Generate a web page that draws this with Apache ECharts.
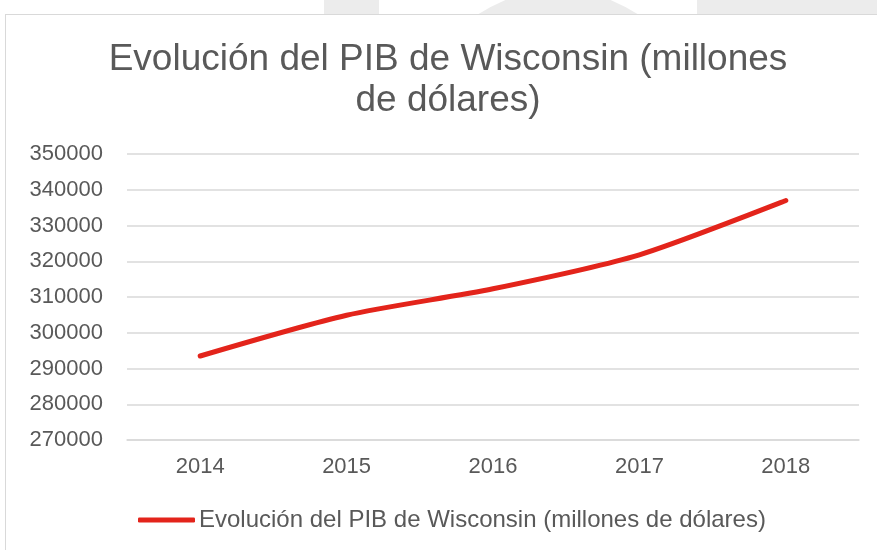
<!DOCTYPE html>
<html>
<head>
<meta charset="utf-8">
<script src="https://cdn.jsdelivr.net/npm/echarts@6/dist/echarts.min.js"></script>
<style>
  html, body { margin: 0; padding: 0; background: #fff; }
  .stage { position: relative; width: 877px; height: 550px; overflow: hidden; }
  /* marca de agua gris detrás del gráfico */
  .wm { position: absolute; background: #ececec; }
  .frame { position: absolute; left: 5px; top: 14px; width: 900px; height: 600px;
           background: #fff; border-left: 1.5px solid #d9d9d9; border-top: 1.5px solid #d9d9d9; }
  #chart { position: absolute; left: 0; top: 0; width: 877px; height: 550px; }
</style>
</head>
<body>
<div class="stage">
  <div class="wm" style="left:324px;top:0;width:55px;height:14px"></div>
  <div class="wm" style="left:415px;top:-10px;width:286px;height:286px;border-radius:50%"></div>
  <div class="wm" style="left:697px;top:0;width:180px;height:14px"></div>
  <div class="frame"></div>
  <div id="chart"></div>
</div>
<script>
// datos
const years = ['2014', '2015', '2016', '2017', '2018']
const gdp = [293500, 304900, 312300, 321800, 337000]
const seriesName = 'Evolución del PIB de Wisconsin (millones de dólares)'
const titleText = 'Evolución del PIB de Wisconsin (millones\nde dólares)'

const textColor = '#595959'
const gridColor = '#d9d9d9'
const lineColor = '#e3241b'

const chart = echarts.init(document.getElementById('chart'))

const option = {
  backgroundColor: 'transparent',
  animation: false,
  title: {
    text: titleText,
    left: 448,
    top: 39,
    textAlign: 'center',
    padding: 0,
    textStyle: {
      fontFamily: 'Liberation Sans',
      fontSize: 37,
      fontWeight: 'normal',
      lineHeight: 41,
      color: textColor
    }
  },
  legend: {
    data: [seriesName],
    left: 138,
    top: 506,
    padding: 0,
    icon: 'roundRect',
    itemWidth: 57,
    itemHeight: 5,
    textStyle: {
      fontFamily: 'Liberation Sans',
      fontSize: 24,
      lineHeight: 28,
      color: textColor,
      padding: [0, 0, 0, -1]
    }
  },
  grid: {
    left: 127,
    right: 18,
    top: 154,
    bottom: 110,
    containLabel: false
  },
  xAxis: {
    type: 'category',
    data: years,
    boundaryGap: true,
    axisLine: { show: true, lineStyle: { color: gridColor, width: 1.5 } },
    axisTick: { show: false },
    axisLabel: {
      margin: 16,
      fontFamily: 'Liberation Sans',
      fontSize: 22,
      color: textColor
    }
  },
  yAxis: {
    type: 'value',
    min: 270000,
    max: 350000,
    interval: 10000,
    axisLine: { show: false },
    axisTick: { show: false },
    axisLabel: {
      margin: 24,
      fontFamily: 'Liberation Sans',
      fontSize: 22,
      color: textColor,
      formatter: (v) => String(v)
    },
    splitLine: { lineStyle: { color: gridColor, width: 1.5 } }
  },
  series: [
    {
      name: seriesName,
      type: 'line',
      data: gdp,
      smooth: 0.25,
      symbol: 'none',
      itemStyle: { color: lineColor },
      lineStyle: { color: lineColor, width: 5, cap: 'round', join: 'round' }
    }
  ]
}

chart.setOption(option)
</script>
</body>
</html>
